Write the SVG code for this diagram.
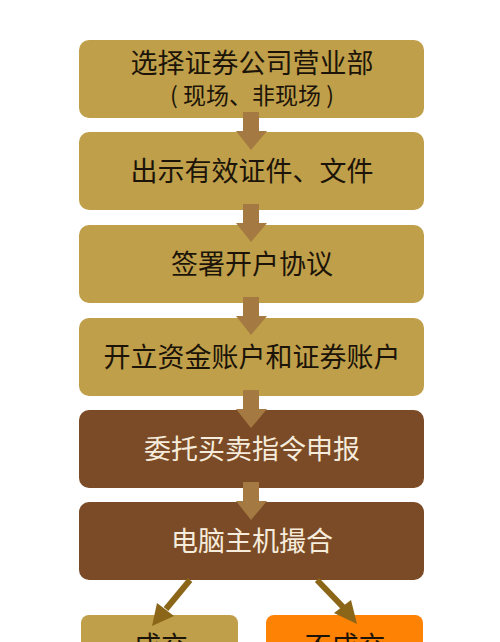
<svg xmlns="http://www.w3.org/2000/svg" width="500" height="642" viewBox="0 0 500 642">
<defs>
<style>
.gold{fill:#bf9f4a}
.brown{fill:#7b4b27}
.orange{fill:#fe8204}
.t{font-family:"Noto Sans CJK SC","Noto Sans",sans-serif;font-size:27px;text-anchor:middle}
.s{font-size:23px}
.dk{fill:#1c1408}
.lt{fill:#f6ecdc}
.va{fill:#a47a42}
.da{stroke:#8b6618;stroke-width:6;fill:none}
.dh{fill:#8b6618}
</style>
</defs>
<rect width="500" height="642" fill="#ffffff"/>
<g id="n1"><rect class="gold" x="79" y="40" width="345" height="78" rx="10"/>
<text class="t dk" x="252" y="73">选择证券公司营业部</text>
<text class="t s dk" x="252" y="104">( 现场、非现场 )</text></g>
<g id="n2"><rect class="gold" x="79" y="132" width="345" height="78" rx="10"/>
<text class="t dk" x="252" y="181">出示有效证件、文件</text></g>
<g id="n3"><rect class="gold" x="79" y="225" width="345" height="78" rx="10"/>
<text class="t dk" x="252" y="274">签署开户协议</text></g>
<g id="n4"><rect class="gold" x="79" y="318" width="345" height="78" rx="10"/>
<text class="t dk" x="252" y="367">开立资金账户和证券账户</text></g>
<g id="n5"><rect class="brown" x="79" y="410" width="345" height="78" rx="10"/>
<text class="t lt" x="252" y="459">委托买卖指令申报</text></g>
<g id="n6"><rect class="brown" x="79" y="502" width="345" height="78" rx="10"/>
<text class="t lt" x="252" y="551">电脑主机撮合</text></g>
<g id="n7"><rect class="gold" x="81" y="615" width="157" height="60" rx="8"/>
<text class="t dk" x="161" y="656">成交</text></g>
<g id="n8"><rect class="orange" x="266" y="615" width="157" height="60" rx="8"/>
<text class="t dk" x="345" y="656">不成交</text></g>
<g id="connectors">
<polygon class="va" points="243,112 259,112 259,131 267,131 251,150 236,131 243,131"/>
<polygon class="va" points="243,204 259,204 259,223 267,223 251,242 236,223 243,223"/>
<polygon class="va" points="243,297 259,297 259,316 267,316 251,335 236,316 243,316"/>
<polygon class="va" points="243,390 259,390 259,409 267,409 251,428 236,409 243,409"/>
<polygon class="va" points="243,482 259,482 259,501 267,501 251,520 236,501 243,501"/>
<line class="da" x1="190" y1="580" x2="166" y2="609"/>
<polygon class="dh" points="152,626 157,603 174,616"/>
<line class="da" x1="317" y1="580" x2="343" y2="607"/>
<polygon class="dh" points="357,624 334,613 351,600"/>
</g>
</svg>
